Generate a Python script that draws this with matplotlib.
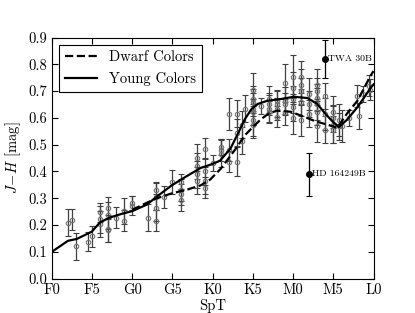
import numpy as np
import matplotlib
matplotlib.use("Agg")
import matplotlib.pyplot as plt

plt.rcParams['font.family'] = 'serif'
plt.rcParams['font.serif'] = ['cmr10']
plt.rcParams['mathtext.fontset'] = 'cm'
plt.rcParams['axes.formatter.use_mathtext'] = True
plt.rcParams['axes.unicode_minus'] = False

# spectral type: F0=0, G0=10, K0=20, M0=30, L0=40
tick_pos = [0, 5, 10, 15, 20, 25, 30, 35, 40]
tick_lab = ['F0', 'F5', 'G0', 'G5', 'K0', 'K5', 'M0', 'M5', 'L0']

# sequence curves
young_spt = [0, 2.0, 3.1, 4.95, 6.0, 7.2, 8.5, 10.0, 11.8, 13.05, 14.9, 16.8,
             18.5, 19.7, 20.9, 22.2, 23.2, 24.0, 24.8, 25.6, 26.8, 28.4, 30.1,
             31.8, 33.0, 34.0, 34.9, 35.7, 36.7, 38.0, 39.65, 40.0]
young_jh = [0.10, 0.141, 0.148, 0.175, 0.21, 0.228, 0.24, 0.252, 0.276, 0.306,
            0.348, 0.383, 0.413, 0.425, 0.44, 0.485, 0.545, 0.595, 0.632, 0.652,
            0.664, 0.67, 0.679, 0.674, 0.652, 0.616, 0.587, 0.566, 0.593, 0.64,
            0.712, 0.725]

dwarf_spt = [10.0, 11.8, 13.05, 14.9, 16.8, 18.5, 19.7, 21.0, 22.0, 23.0,
             24.0, 25.0, 26.0, 27.0, 28.0, 29.7, 31.3, 32.8, 34.25, 35.5, 36.7,
             38.0, 39.65, 40.0]
dwarf_jh = [0.257, 0.283, 0.30, 0.318, 0.332, 0.348, 0.37, 0.41, 0.45, 0.49,
            0.535, 0.566, 0.595, 0.617, 0.627, 0.623, 0.605, 0.587, 0.575,
            0.563, 0.616, 0.664, 0.758, 0.775]

# individual objects
obj_spt = [2.0, 2.5, 3.0, 4.45, 4.95,
           6, 6, 6, 7, 7, 7, 7, 8, 9, 9, 10, 10, 12,
           13, 13, 13, 13, 14, 15, 16, 16, 16, 16,
           18, 18, 18, 18, 19, 19, 19, 19, 20, 21, 21, 21,
           22, 22, 22, 23, 23, 23, 23.65, 23.65, 24.06,
           25, 25, 25, 25, 25, 25, 25, 26, 27, 27, 27, 27,
           28, 28, 28, 28, 29, 29, 29, 29, 30, 30, 30, 30, 30,
           31, 31, 31, 31, 31, 32, 32, 32, 33, 33, 33, 33, 33, 33,
           34, 34, 34, 35, 35, 35, 35, 35.7, 35.7, 36.1, 37.0,
           38.0, 38.2, 38.7, 39.4, 39.6]
obj_jh = [0.208, 0.22, 0.12, 0.138, 0.158,
          0.248, 0.222, 0.204, 0.264, 0.236, 0.186, 0.18, 0.228, 0.252, 0.216,
          0.282, 0.272, 0.228,
          0.33, 0.306, 0.264, 0.216, 0.304, 0.362, 0.36, 0.33, 0.315, 0.294,
          0.452, 0.42, 0.39, 0.366, 0.485, 0.40, 0.366, 0.34, 0.431, 0.49, 0.48,
          0.467,
          0.616, 0.48, 0.437, 0.616, 0.545, 0.437, 0.575, 0.515, 0.634,
          0.706, 0.67, 0.658, 0.634, 0.622, 0.592, 0.575, 0.646, 0.67, 0.652,
          0.634, 0.622,
          0.664, 0.652, 0.634, 0.605, 0.73, 0.664, 0.652, 0.622,
          0.754, 0.712, 0.67, 0.64, 0.598,
          0.754, 0.724, 0.70, 0.658, 0.592, 0.688, 0.652, 0.616,
          0.724, 0.70, 0.676, 0.652, 0.622, 0.569,
          0.682, 0.616, 0.556, 0.622, 0.598, 0.575, 0.556, 0.592, 0.569, 0.569,
          0.60,
          0.682, 0.607, 0.69, 0.72, 0.706]
obj_err = [0.05, 0.04, 0.05, 0.035, 0.04,
           0.035, 0.05, 0.05, 0.04, 0.05, 0.05, 0.045, 0.04, 0.05, 0.04,
           0.025, 0.035, 0.05,
           0.03, 0.05, 0.05, 0.04, 0.04, 0.045, 0.03, 0.04, 0.04, 0.04,
           0.05, 0.05, 0.05, 0.05, 0.04, 0.05, 0.05, 0.04, 0.03, 0.03, 0.04,
           0.05,
           0.06, 0.04, 0.04, 0.05, 0.05, 0.055, 0.05, 0.05, 0.05,
           0.06, 0.05, 0.05, 0.06, 0.05, 0.06, 0.05, 0.03, 0.05, 0.04,
           0.05, 0.04,
           0.04, 0.05, 0.04, 0.04, 0.07, 0.05, 0.04, 0.05,
           0.08, 0.06, 0.05, 0.05, 0.06,
           0.06, 0.06, 0.05, 0.05, 0.06, 0.06, 0.05, 0.05,
           0.06, 0.05, 0.05, 0.06, 0.05, 0.06,
           0.05, 0.06, 0.05, 0.06, 0.05, 0.07, 0.05, 0.06, 0.05, 0.06,
           0.03,
           0.04, 0.05, 0.03, 0.04, 0.04]

# peculiar objects
pec_names = ['TWA 30B', 'HD 164249B']
pec_spt = [34.0, 32.0]
pec_jh = [0.82, 0.39]
pec_err = [0.07, 0.08]

fig, ax = plt.subplots(figsize=(4.15, 3.13), dpi=100)

ax.errorbar(obj_spt, obj_jh, yerr=obj_err, fmt='o', ms=3.2, mfc='none',
            mec='0.45', mew=0.8, ecolor='0.25', elinewidth=0.9, capsize=2,
            capthick=0.8, zorder=2)
ax.plot(dwarf_spt, dwarf_jh, 'k--', lw=1.6, label='Dwarf Colors', zorder=3)
ax.plot(young_spt, young_jh, 'k-', lw=1.6, label='Young Colors', zorder=3)

ax.errorbar(pec_spt, pec_jh, yerr=pec_err, fmt='o', ms=4, color='k',
            ecolor='k', elinewidth=0.9, capsize=2, capthick=0.8, zorder=4)
for name, x, y in zip(pec_names, pec_spt, pec_jh):
    ax.text(x + 0.4, y, name, fontsize=7, va='center', ha='left')

ax.set_xlim(0, 40)
ax.set_ylim(0, 0.9)
ax.set_xticks(tick_pos)
ax.set_xticklabels(tick_lab)
ax.set_yticks(np.arange(0, 0.91, 0.1))
ax.set_yticklabels(['%.1f' % v for v in np.arange(0, 0.91, 0.1)])
ax.tick_params(direction='in', top=True, right=True, length=4, labelsize=10.5)
ax.set_xlabel('SpT', fontsize=10.5, labelpad=1)
ax.set_ylabel('$J\\!-\\!H$ [mag]', fontsize=10.5)

leg = ax.legend(loc='upper left', fontsize=10.5, fancybox=False,
                edgecolor='k', framealpha=1, handlelength=2.2,
                borderaxespad=0.5)
leg.get_frame().set_linewidth(0.8)

fig.savefig('out.png', dpi=100)
